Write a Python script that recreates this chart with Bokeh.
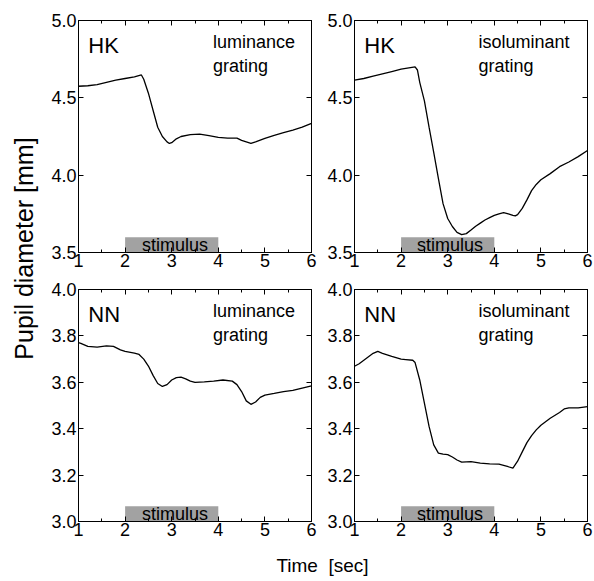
import math
from bokeh.plotting import figure
from bokeh.layouts import row, column
from bokeh.models import (Range1d, FixedTicker, LinearAxis, CustomJSTickFormatter,
                          NumeralTickFormatter, Label)
from bokeh.embed import file_html
from bokeh.resources import INLINE
from bokeh.core.properties import value

FONT = "Liberation Sans"

# ---------------- data ----------------
X_TICKS = [1, 2, 3, 4, 5, 6]
X_MINOR = [1.5, 2.5, 3.5, 4.5, 5.5]
HK_TICKS = [3.5, 4.0, 4.5, 5.0]
NN_TICKS = [3.0, 3.2, 3.4, 3.6, 3.8, 4.0]
STIM_START = 2.0
STIM_END = 4.0

hk_lum_t = [1.0, 1.2, 1.4, 1.6, 1.8, 2.0, 2.2, 2.35, 2.4, 2.5, 2.6, 2.7, 2.8, 2.9, 2.95,
            3.0, 3.1, 3.2, 3.4, 3.6, 3.8, 4.0, 4.2, 4.4, 4.5, 4.6, 4.7, 4.8, 5.0, 5.2,
            5.4, 5.6, 5.8, 6.0]
hk_lum_d = [4.575, 4.578, 4.585, 4.600, 4.615, 4.625, 4.635, 4.648, 4.620, 4.530, 4.420,
            4.310, 4.250, 4.215, 4.205, 4.210, 4.235, 4.250, 4.262, 4.265, 4.255, 4.245,
            4.240, 4.240, 4.225, 4.215, 4.205, 4.215, 4.238, 4.258, 4.275, 4.292, 4.310,
            4.335]

hk_iso_t = [1.0, 1.2, 1.4, 1.6, 1.8, 2.0, 2.2, 2.3, 2.35, 2.4, 2.5, 2.6, 2.7, 2.8, 2.9,
            3.0, 3.1, 3.2, 3.3, 3.4, 3.5, 3.6, 3.7, 3.8, 3.9, 4.0, 4.1, 4.2, 4.3, 4.4,
            4.45, 4.5, 4.6, 4.7, 4.8, 4.9, 5.0, 5.2, 5.4, 5.6, 5.8, 6.0]
hk_iso_d = [4.614, 4.625, 4.640, 4.655, 4.670, 4.685, 4.695, 4.700, 4.680, 4.600, 4.480,
            4.310, 4.147, 3.980, 3.816, 3.720, 3.668, 3.630, 3.616, 3.622, 3.645, 3.670,
            3.690, 3.710, 3.725, 3.740, 3.750, 3.758, 3.750, 3.740, 3.737, 3.745, 3.785,
            3.840, 3.900, 3.940, 3.970, 4.010, 4.055, 4.085, 4.120, 4.160]

nn_lum_t = [1.0, 1.05, 1.2, 1.4, 1.6, 1.75, 1.9, 2.0, 2.2, 2.3, 2.4, 2.5, 2.6, 2.7, 2.8,
            2.9, 3.0, 3.1, 3.2, 3.3, 3.4, 3.5, 3.7, 3.9, 4.1, 4.3, 4.4, 4.5, 4.6, 4.7,
            4.8, 4.9, 5.0, 5.2, 5.4, 5.6, 5.8, 6.0]
nn_lum_d = [3.771, 3.768, 3.755, 3.752, 3.757, 3.755, 3.740, 3.733, 3.726, 3.720, 3.700,
            3.670, 3.630, 3.595, 3.582, 3.590, 3.610, 3.620, 3.622, 3.615, 3.605, 3.600,
            3.602, 3.605, 3.610, 3.605, 3.590, 3.560, 3.520, 3.505, 3.515, 3.535, 3.545,
            3.552, 3.560, 3.565, 3.575, 3.585]

nn_iso_t = [1.0, 1.1, 1.2, 1.3, 1.4, 1.5, 1.6, 1.8, 2.0, 2.1, 2.25, 2.3, 2.4, 2.5, 2.6,
            2.7, 2.8, 2.9, 3.0, 3.1, 3.2, 3.3, 3.5, 3.7, 3.9, 4.1, 4.3, 4.4, 4.5, 4.6,
            4.7, 4.8, 4.9, 5.0, 5.2, 5.4, 5.5, 5.6, 5.8, 6.0]
nn_iso_d = [3.669, 3.680, 3.695, 3.710, 3.725, 3.733, 3.725, 3.712, 3.700, 3.698, 3.695,
            3.685, 3.610, 3.510, 3.410, 3.330, 3.295, 3.290, 3.288, 3.278, 3.265, 3.256,
            3.258, 3.252, 3.248, 3.247, 3.236, 3.230, 3.260, 3.300, 3.340, 3.370, 3.395,
            3.415, 3.445, 3.470, 3.485, 3.490, 3.490, 3.495]


def blank(w, h):
    p = figure(width=w, height=h, x_range=Range1d(0, 1), y_range=Range1d(0, 1),
               output_backend="svg", toolbar_location=None,
               min_border_left=0, min_border_right=0, min_border_top=0, min_border_bottom=0)
    p.axis.visible = False
    p.grid.visible = False
    p.outline_line_color = None
    return p


def style_axis(ax, standoff):
    ax.axis_line_color = "black"
    ax.major_tick_line_color = "black"
    ax.minor_tick_line_color = "black"
    ax.major_tick_in = 5
    ax.major_tick_out = 0
    ax.minor_tick_in = 3
    ax.minor_tick_out = 0
    ax.major_label_text_font = FONT
    ax.major_label_text_font_size = "18px"
    ax.major_label_text_color = "black"
    ax.major_label_standoff = standoff


def txt(p, x, y, s, size, align="left"):
    p.text(x=[x], y=[y], text=[s], text_align=align, text_baseline="middle",
           text_font=value(FONT), text_font_size=size, text_color="black")


def panel(t, d, ymin, ymax, yticks, subj, cond, cond_x, stim_x, w, h, ml, mr, mt, mb):
    p = figure(width=w, height=h, x_range=Range1d(1, 6), y_range=Range1d(ymin, ymax),
               output_backend="svg", toolbar_location=None,
               min_border_left=ml, min_border_right=mr, min_border_top=mt, min_border_bottom=mb)
    p.grid.visible = False
    p.outline_line_color = "black"
    p.outline_line_width = 1
    xa = p.xaxis[0]
    xa.ticker = FixedTicker(ticks=X_TICKS, minor_ticks=X_MINOR)
    style_axis(xa, 1)
    ya = p.yaxis[0]
    ya.ticker = FixedTicker(ticks=yticks, minor_ticks=[])
    ya.formatter = NumeralTickFormatter(format="0.0")
    style_axis(ya, 2)
    ya.minor_tick_line_color = None
    empty = CustomJSTickFormatter(code="return ''")
    top = LinearAxis(ticker=FixedTicker(ticks=X_TICKS, minor_ticks=X_MINOR), formatter=empty)
    style_axis(top, 0)
    p.add_layout(top, "above")
    right = LinearAxis(ticker=FixedTicker(ticks=yticks, minor_ticks=[]), formatter=empty)
    style_axis(right, 0)
    right.minor_tick_line_color = None
    p.add_layout(right, "right")

    rng = ymax - ymin
    p.quad(left=[STIM_START], right=[STIM_END], bottom=[ymin], top=[ymin + 0.066 * rng],
           fill_color="#a2a2a2", line_color=None)
    txt(p, stim_x, ymin + 0.032 * rng, "stimulus", "18px", "center")
    p.line(t, d, line_color="black", line_width=1.3)
    txt(p, 1.21, ymax - 0.107 * rng, subj, "22px")
    txt(p, cond_x, ymax - 0.093 * rng, cond, "18px")
    txt(p, cond_x, ymax - 0.196 * rng, "grating", "18px")
    return p


W0 = 48
W_L, W_R = 269, 276
H_T, H_B = 276, 267

tl = panel(hk_lum_t, hk_lum_d, 3.5, 5.0, HK_TICKS, "HK", "luminance", 3.885, 3.07,
           W_L, H_T, 29, 6, 20, 24)
tr = panel(hk_iso_t, hk_iso_d, 3.5, 5.0, HK_TICKS, "HK", "isoluminant", 3.66, 3.05,
           W_R, H_T, 37, 6, 20, 24)
bl = panel(nn_lum_t, nn_lum_d, 3.0, 4.0, NN_TICKS, "NN", "luminance", 3.885, 3.07,
           W_L, H_B, 29, 6, 13, 22)
br = panel(nn_iso_t, nn_iso_d, 3.0, 4.0, NN_TICKS, "NN", "isoluminant", 3.66, 3.05,
           W_R, H_B, 37, 6, 13, 22)

ylab = blank(W0, H_T + H_B)
ylab.add_layout(Label(x=23 / W0, y=1 - 248 / (H_T + H_B), text="Pupil diameter [mm]",
                      angle=math.pi / 2, text_align="center", text_baseline="middle",
                      text_font=FONT, text_font_size="25px", text_color="black"))

xlab = blank(W0 + W_L + W_R, 38)
xlab.add_layout(Label(x=322 / (W0 + W_L + W_R), y=0.42, text="Time \u00a0[sec]",
                      text_align="center", text_baseline="middle", text_font=FONT,
                      text_font_size="19px", text_color="black"))

layout = column(row(ylab, column(row(tl, tr), row(bl, br))), xlab)

open("out.html", "w").write(file_html(layout, INLINE))
